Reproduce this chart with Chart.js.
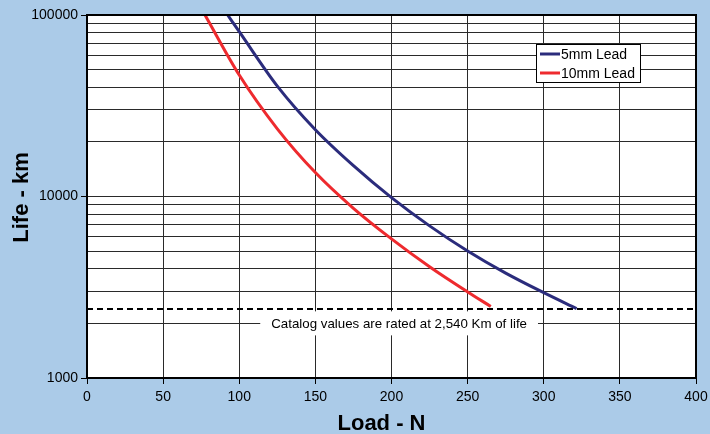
<!DOCTYPE html>
<html><head><meta charset="utf-8">
<script src="https://cdn.jsdelivr.net/npm/chart.js@4.4.0/dist/chart.umd.min.js"></script>
<style>html,body{margin:0;padding:0;background:#abcbe8;}canvas{display:block;}</style>
</head><body>
<canvas id="c" width="710" height="434"></canvas>
<script>
const seriesNames = ['5mm Lead', '10mm Lead'];
const seriesColors = ['#2b2c7c', '#ee2a2e'];
const lead5Load  = [92.4, 100, 125, 150, 175, 200, 225, 250, 275, 300, 321.6];
const lead5Life  = [100000, 80900, 40550, 23330, 14790, 9860, 6890, 5010, 3784, 2951, 2410];
const lead10Load = [77.5, 100, 125, 150, 175, 200, 225, 250, 265.2];
const lead10Life = [100000, 46700, 23600, 13550, 8610, 5840, 4100, 2980, 2480];
const catalogLife = 2400;
const catalogNote = 'Catalog values are rated at 2,540 Km of life';
const xTicks = [0, 50, 100, 150, 200, 250, 300, 350, 400];
const yTickLabels = [1000, 10000, 100000];
const yGridDecades = [1000, 10000];
const xTitle = 'Load - N';
const yTitle = 'Life - km';

const FAMILY = '"Liberation Sans", Arial, Helvetica, sans-serif';
Chart.defaults.font.family = FAMILY;
Chart.defaults.color = '#000';

const pts = (xs, ys) => xs.map((v, i) => ({x: v, y: ys[i]}));

const decor = {
  id: 'decor',
  beforeDraw(chart) {
    const {ctx, chartArea: a} = chart;
    ctx.save();
    ctx.fillStyle = '#abcbe8';
    ctx.fillRect(0, 0, chart.width, chart.height);
    ctx.fillStyle = '#ffffff';
    ctx.fillRect(a.left, a.top, a.right - a.left, a.bottom - a.top);
    ctx.restore();
  },
  beforeDatasetsDraw(chart) {
    const {ctx, chartArea: a, scales: {x, y}} = chart;
    ctx.save();
    ctx.font = '13.3px ' + FAMILY;
    const cx = x.getPixelForValue(205), cy = y.getPixelForValue(2000);
    const w = ctx.measureText(catalogNote).width + 22;
    ctx.fillStyle = '#fff';
    ctx.fillRect(cx - w / 2, cy - 12, w, 24);
    ctx.fillStyle = '#000';
    ctx.textAlign = 'center';
    ctx.textBaseline = 'middle';
    ctx.fillText(catalogNote, cx, cy + 1);
    const lx = a.right - 160, ly = a.top + 29;
    ctx.fillStyle = '#fff';
    ctx.fillRect(lx, ly, 104, 38);
    ctx.strokeStyle = '#000';
    ctx.lineWidth = 1;
    ctx.strokeRect(lx + 0.5, ly + 0.5, 104, 38);
    ctx.font = '14px ' + FAMILY;
    ctx.textAlign = 'left';
    seriesNames.forEach((n, i) => {
      const ry = ly + 10 + i * 19;
      ctx.strokeStyle = seriesColors[i];
      ctx.lineWidth = 3;
      ctx.beginPath();
      ctx.moveTo(lx + 4, ry);
      ctx.lineTo(lx + 24, ry);
      ctx.stroke();
      ctx.fillStyle = '#000';
      ctx.fillText(n, lx + 25, ry + 1);
    });
    ctx.restore();
  },
  afterDraw(chart) {
    const {ctx, chartArea: a} = chart;
    ctx.save();
    ctx.strokeStyle = '#000';
    ctx.lineWidth = 2;
    ctx.strokeRect(a.left, a.top, a.right - a.left, a.bottom - a.top);
    ctx.fillStyle = '#000';
    ctx.font = 'bold 22px ' + FAMILY;
    ctx.textAlign = 'center';
    ctx.textBaseline = 'alphabetic';
    ctx.fillText(xTitle, (a.left + a.right) / 2 - 10, a.bottom + 52);
    ctx.translate(28, (a.top + a.bottom) / 2 + 1);
    ctx.rotate(-Math.PI / 2);
    ctx.fillText(yTitle, 0, 0);
    ctx.restore();
  }
};

new Chart(document.getElementById('c'), {
  type: 'line',
  data: {
    datasets: [
      {label: seriesNames[0], data: pts(lead5Load, lead5Life), borderColor: seriesColors[0], borderWidth: 3,
       pointRadius: 0, fill: false, cubicInterpolationMode: 'monotone'},
      {label: seriesNames[1], data: pts(lead10Load, lead10Life), borderColor: seriesColors[1], borderWidth: 3,
       pointRadius: 0, fill: false, cubicInterpolationMode: 'monotone'},
      {label: 'catalog', data: [{x: xTicks[0], y: catalogLife}, {x: xTicks[xTicks.length - 1], y: catalogLife}],
       borderColor: '#000', borderWidth: 2, borderDash: [6, 4], pointRadius: 0, fill: false}
    ]
  },
  options: {
    responsive: false,
    animation: false,
    devicePixelRatio: 1,
    layout: {padding: {top: 15, right: 14, left: 0, bottom: 0}},
    plugins: {legend: {display: false}, tooltip: {enabled: false}},
    scales: {
      x: {
        type: 'linear', min: xTicks[0], max: xTicks[xTicks.length - 1],
        afterBuildTicks(s) { s.ticks = xTicks.map(v => ({value: v})); },
        afterFit(s) { s.height = 56; s.paddingLeft = 0; s.paddingRight = 0; },
        ticks: {padding: 5, color: '#000', font: {size: 14}, autoSkip: false, maxRotation: 0},
        grid: {color: '#2a2a2a', lineWidth: 1, tickLength: 6, tickColor: '#000'},
        border: {display: false}
      },
      y: {
        type: 'logarithmic', min: yTickLabels[0], max: yTickLabels[yTickLabels.length - 1],
        afterBuildTicks(s) {
          const t = [];
          yGridDecades.forEach(d => { for (let m = 1; m < 10; m++) t.push({value: m * d}); });
          t.push({value: yTickLabels[yTickLabels.length - 1]});
          s.ticks = t;
        },
        afterFit(s) { s.width = 87; s.paddingTop = 0; s.paddingBottom = 0; },
        ticks: {padding: 3, color: '#000', font: {size: 14}, autoSkip: false,
          callback: v => yTickLabels.includes(v) ? String(v) : ''},
        grid: {color: '#2a2a2a', lineWidth: 1, tickLength: 6,
          tickColor: c => (c.tick && yTickLabels.includes(c.tick.value)) ? '#000' : 'rgba(0,0,0,0)'},
        border: {display: false}
      }
    }
  },
  plugins: [decor]
});
</script>
</body></html>
